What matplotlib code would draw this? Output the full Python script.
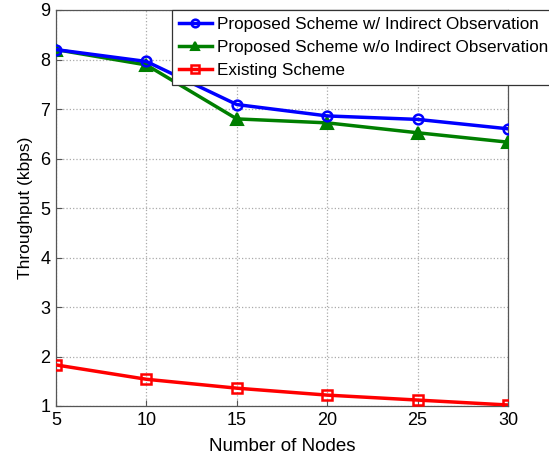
import matplotlib
matplotlib.use("Agg")
import matplotlib.pyplot as plt

plt.rcParams['font.family'] = ['Liberation Sans', 'DejaVu Sans']

nodes = [5, 10, 15, 20, 25, 30]
with_indirect = [8.20, 7.96, 7.09, 6.86, 6.79, 6.60]
without_indirect = [8.20, 7.89, 6.80, 6.72, 6.52, 6.33]
existing = [1.83, 1.54, 1.36, 1.22, 1.12, 1.02]

x_ticks = [5, 10, 15, 20, 25, 30]
y_ticks = [1, 2, 3, 4, 5, 6, 7, 8, 9]

fig = plt.figure(figsize=(5.49, 4.55), dpi=100)
ax = fig.add_axes([56 / 549, 1 - 406 / 455, (508 - 56) / 549, (406 - 10) / 455])

ax.plot(nodes, with_indirect, color='#0000ff', lw=2.5, marker='o', ms=7,
        mfc='none', mew=1.8, label='Proposed Scheme w/ Indirect Observation', zorder=4)
ax.plot(nodes, without_indirect, color='#007f00', lw=2.5, marker='^', ms=8,
        mfc='#007f00', mew=1.5, label='Proposed Scheme w/o Indirect Observation', zorder=3)
ax.plot(nodes, existing, color='#ff0000', lw=2.5, marker='s', ms=7,
        mfc='none', mew=1.8, label='Existing Scheme', zorder=3)

ax.set_xlim(5, 30)
ax.set_ylim(1, 9)
ax.set_xticks(x_ticks)
ax.set_yticks(y_ticks)
ax.tick_params(direction='in', labelsize=13, length=4, color='#555555', pad=4)
ax.grid(True, linestyle=':', color='#aaaaaa', linewidth=0.9)
for s in ax.spines.values():
    s.set_color('#555555')
    s.set_linewidth(0.9)

ax.set_xlabel('Number of Nodes', fontsize=13.5, labelpad=7)
ax.set_ylabel('Throughput (kbps)', fontsize=12.5, labelpad=5)

leg = ax.legend(loc='upper left', bbox_to_anchor=(172 / 549, 1 - 10 / 455),
                bbox_transform=fig.transFigure, fontsize=12.3, frameon=True,
                fancybox=False, edgecolor='#333333', framealpha=1,
                borderpad=0.42, labelspacing=0.45, handlelength=1.9,
                handletextpad=0.3, borderaxespad=0)
leg.get_frame().set_linewidth(0.9)
for h in leg.legend_handles:
    h.set_markersize(5.5)

fig.savefig('out.png', dpi=100)
